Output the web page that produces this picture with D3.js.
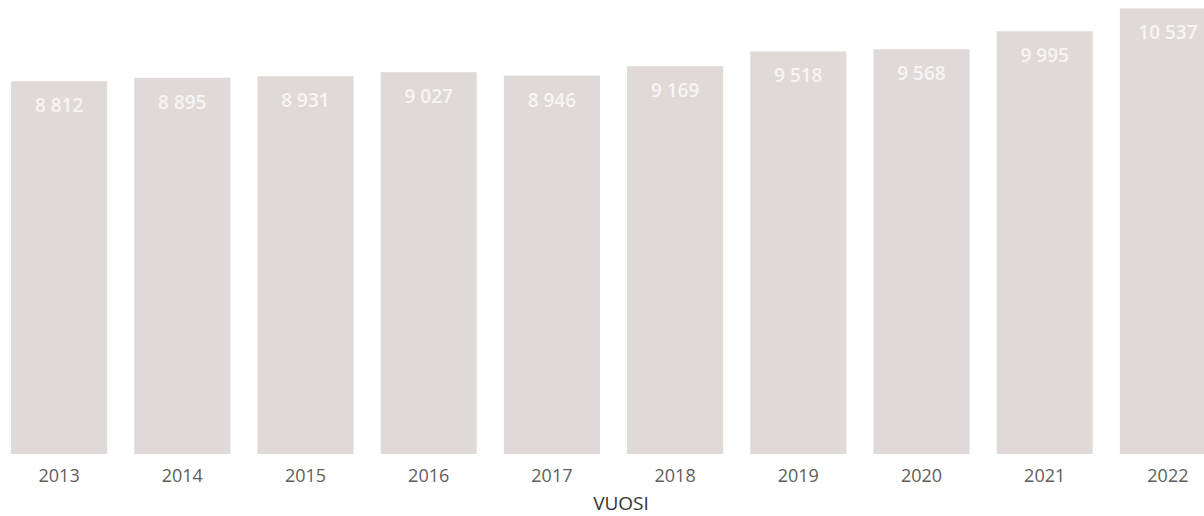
<!DOCTYPE html>
<html>
<head>
<meta charset="utf-8">
<script src="https://cdn.jsdelivr.net/npm/d3@7"></script>
<style>
  body { margin: 0; background: #fff; }
  svg { display: block; }
</style>
</head>
<body>
<div id="chart"></div>
<script>
// data
var years = ["2013", "2014", "2015", "2016", "2017", "2018", "2019", "2020", "2021", "2022"];
var values = [8812, 8895, 8931, 9027, 8946, 9169, 9518, 9568, 9995, 10537];

var width = 1204, height = 516;

var svg = d3.select("#chart")
    .append("svg")
    .attr("width", width)
    .attr("height", height);

var data = years.map(function(y, i) { return { year: y, value: values[i] }; });

// x band scale, last bar runs off the right edge like the original
var x = d3.scaleBand()
    .domain(years)
    .range([-2.5, 1229.5])
    .paddingInner(0.22)
    .paddingOuter(0.11);

var y = d3.scaleLinear()
    .domain([0, 10537])
    .range([454, 8.3]);

// bars
svg.selectAll("rect.bar")
    .data(data)
    .enter().append("rect")
    .attr("class", "bar")
    .attr("x", function(d) { return x(d.year); })
    .attr("y", function(d) { return y(d.value); })
    .attr("width", x.bandwidth())
    .attr("height", function(d) { return y(0) - y(d.value); })
    .attr("fill", "#dfdad7");

// value labels inside the bar top
var fmt = function(v) { return d3.format(",")(v).replace(/,/g, " "); };
svg.selectAll("text.val")
    .data(data)
    .enter().append("text")
    .attr("class", "val")
    .attr("x", function(d) { return x(d.year) + x.bandwidth() / 2; })
    .attr("y", function(d) { return y(d.value) + 31; })
    .attr("text-anchor", "middle")
    .attr("font-family", "'Open Sans', sans-serif")
    .attr("font-size", "19px")
    .attr("font-weight", 600)
    .attr("fill", "#f7f5f4")
    .text(function(d) { return fmt(d.value); });

// x axis
var xAxis = svg.append("g")
    .attr("transform", "translate(0,454)")
    .call(d3.axisBottom(x).tickSize(0).tickPadding(15));
xAxis.select(".domain").remove();
xAxis.selectAll("text")
    .attr("font-family", "'Open Sans', sans-serif")
    .attr("font-size", "18px")
    .attr("fill", "#605e5c");

// axis title
svg.append("text")
    .attr("x", 621)
    .attr("y", 510)
    .attr("text-anchor", "middle")
    .attr("font-family", "'Open Sans', sans-serif")
    .attr("font-size", "19px")
    .attr("fill", "#333")
    .text("VUOSI");
</script>
</body>
</html>
